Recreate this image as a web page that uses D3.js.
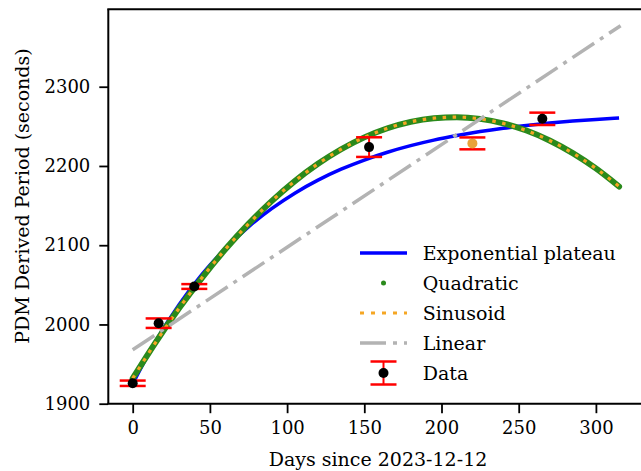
<!DOCTYPE html>
<html>
<head>
<meta charset="utf-8">
<script src="https://cdn.jsdelivr.net/npm/d3@7"></script>
<style>
  html, body { margin: 0; padding: 0; background: #fff; }
  svg { display: block; }
  text { font-family: "DejaVu Serif", serif; fill: #000; }
</style>
</head>
<body>
<svg id="chart" width="641" height="471"></svg>
<script>
// ---- Data ----
const obsDays   = [0, 16.8, 39.9, 153.1, 220.0, 265.3];
const obsPeriod = [1925.8, 2001.6, 2047.9, 2223.8, 2228.5, 2259.5];
const obsErr    = [3.4, 6.0, 3.0, 12.4, 7.5, 7.8];
const obsFlagged = [false, false, false, false, true, false];

const fitDays = [0, 15, 30, 45, 60, 75, 90, 105, 120, 135, 150, 165, 180, 195, 210, 225, 240, 255, 270, 285, 300, 315];
const expPlateau = [1925.0, 1979.2, 2024.9, 2063.4, 2095.8, 2123.2, 2146.2, 2165.7, 2182.1, 2195.9, 2207.5, 2217.3, 2225.6, 2232.6, 2238.4, 2243.4, 2247.6, 2251.1, 2254.1, 2256.6, 2258.7, 2260.5];
const quadratic  = [1932.0, 1977.8, 2020.3, 2059.2, 2094.8, 2126.9, 2155.6, 2180.9, 2202.7, 2221.1, 2236.1, 2247.6, 2255.7, 2260.3, 2261.6, 2259.4, 2253.7, 2244.7, 2232.2, 2216.2, 2196.9, 2174.1];
const sinusoid   = [1932.0, 1977.8, 2020.3, 2059.2, 2094.8, 2126.9, 2155.6, 2180.9, 2202.7, 2221.1, 2236.1, 2247.6, 2255.7, 2260.3, 2261.6, 2259.4, 2253.7, 2244.7, 2232.2, 2216.2, 2196.9, 2174.1];
const linearDays = [0, 316];
const linearFit  = [1968, 2377];

const xTicks = [0, 50, 100, 150, 200, 250, 300];
const yTicks = [1900, 2000, 2100, 2200, 2300];
const legendLabels = ["Exponential plateau", "Quadratic", "Sinusoid", "Linear", "Data"];

// ---- Layout ----
const svg = d3.select("#chart");
svg.append("rect").attr("width", 641).attr("height", 471).attr("fill", "#fff");

const x = d3.scaleLinear().domain([-15.8, 331.8]).range([108.3, 645]);
const y = d3.scaleLinear().domain([1900, 2397.7]).range([403.7, 9.3]);

const line = d3.line().x(d => x(d[0])).y(d => y(d[1])).curve(d3.curveMonotoneX);
const zip = (a, b) => a.map((v, i) => [v, b[i]]);

const g = svg.append("g");

// Exponential plateau
g.append("path").attr("d", line(zip(fitDays, expPlateau)))
  .attr("fill", "none").attr("stroke", "#0000ff").attr("stroke-width", 3.5);
// Quadratic (dense green dots -> thick line)
g.append("path").attr("d", line(zip(fitDays, quadratic)))
  .attr("fill", "none").attr("stroke", "#2a8a1c").attr("stroke-width", 6)
  .attr("stroke-linecap", "round");
// Sinusoid (orange dotted)
g.append("path").attr("d", line(zip(fitDays, sinusoid)))
  .attr("fill", "none").attr("stroke", "#f5a623").attr("stroke-width", 3.2)
  .attr("stroke-dasharray", "3.5,6.5");
// Linear (gray dash-dot)
g.append("path").attr("d", line(zip(linearDays, linearFit)))
  .attr("fill", "none").attr("stroke", "#b3b3b3").attr("stroke-width", 3.5)
  .attr("stroke-dasharray", "26,7,4,7");

// Data with error bars
const obs = obsDays.map((d, i) => ({ d, p: obsPeriod[i], e: obsErr[i], f: obsFlagged[i] }));
const eg = g.append("g");
obs.forEach(o => {
  const cx = x(o.d);
  eg.append("line").attr("x1", cx).attr("x2", cx).attr("y1", y(o.p - o.e)).attr("y2", y(o.p + o.e))
    .attr("stroke", "#ff0000").attr("stroke-width", 2);
  [o.p - o.e, o.p + o.e].forEach(v => {
    eg.append("line").attr("x1", cx - 13).attr("x2", cx + 13).attr("y1", y(v)).attr("y2", y(v))
      .attr("stroke", "#ff0000").attr("stroke-width", 2.5);
  });
  eg.append("circle").attr("cx", cx).attr("cy", y(o.p)).attr("r", 5)
    .attr("fill", o.f ? "#e9a33a" : "#000");
});

// ---- Axes ----
const xAxis = d3.axisBottom(x).tickValues(xTicks).tickSize(9.5).tickPadding(6).tickFormat(d3.format("d"));
const yAxis = d3.axisLeft(y).tickValues(yTicks).tickSize(9).tickPadding(9).tickFormat(d3.format("d"));

const gx = svg.append("g").attr("transform", "translate(0,403.7)").call(xAxis);
const gy = svg.append("g").attr("transform", "translate(108.3,0)").call(yAxis);
[gx, gy].forEach(a => {
  a.select(".domain").remove();
  a.selectAll(".tick line").attr("stroke", "#000").attr("stroke-width", 1.8);
  a.selectAll(".tick text").attr("font-family", "DejaVu Serif").attr("font-size", 18).attr("fill", "#000");
});
gx.selectAll(".tick text").attr("dy", "0.85em");

// spines
svg.append("line").attr("x1", 108.3).attr("x2", 108.3).attr("y1", 9.3).attr("y2", 403.7).attr("stroke", "#000").attr("stroke-width", 2);
svg.append("line").attr("x1", 107.3).attr("x2", 645).attr("y1", 403.7).attr("y2", 403.7).attr("stroke", "#000").attr("stroke-width", 2);
svg.append("line").attr("x1", 107.3).attr("x2", 645).attr("y1", 9.3).attr("y2", 9.3).attr("stroke", "#000").attr("stroke-width", 2);
svg.append("line").attr("x1", 645).attr("x2", 645).attr("y1", 9.3).attr("y2", 403.7).attr("stroke", "#000").attr("stroke-width", 2);

// axis labels
svg.append("text").attr("x", 378).attr("y", 466).attr("text-anchor", "middle")
  .attr("font-size", 19).text("Days since 2023-12-12");
svg.append("text").attr("transform", "translate(29,196) rotate(-90)").attr("text-anchor", "middle")
  .attr("font-size", 19).text("PDM Derived Period (seconds)");

// ---- Legend ----
const lg = svg.append("g");
const rowY = [253, 283, 313, 343, 373];
const hx0 = 360, hx1 = 407, hxc = 383.5;
lg.append("line").attr("x1", hx0).attr("x2", hx1).attr("y1", rowY[0]).attr("y2", rowY[0])
  .attr("stroke", "#0000ff").attr("stroke-width", 3.5);
lg.append("circle").attr("cx", hxc).attr("cy", rowY[1]).attr("r", 2.5).attr("fill", "#2a8a1c");
lg.append("line").attr("x1", hx0).attr("x2", hx1).attr("y1", rowY[2]).attr("y2", rowY[2])
  .attr("stroke", "#f5a623").attr("stroke-width", 3.2).attr("stroke-dasharray", "4,7");
lg.append("line").attr("x1", hx0).attr("x2", hx1).attr("y1", rowY[3]).attr("y2", rowY[3])
  .attr("stroke", "#b3b3b3").attr("stroke-width", 3.5).attr("stroke-dasharray", "26,7,4,7");
lg.append("line").attr("x1", hxc).attr("x2", hxc).attr("y1", rowY[4] - 11.5).attr("y2", rowY[4] + 11.5)
  .attr("stroke", "#ff0000").attr("stroke-width", 2);
[rowY[4] - 11.5, rowY[4] + 11.5].forEach(v => {
  lg.append("line").attr("x1", hxc - 13).attr("x2", hxc + 13).attr("y1", v).attr("y2", v)
    .attr("stroke", "#ff0000").attr("stroke-width", 2.5);
});
lg.append("circle").attr("cx", hxc).attr("cy", rowY[4]).attr("r", 5).attr("fill", "#000");
legendLabels.forEach((t, i) => {
  lg.append("text").attr("x", 422.7).attr("y", rowY[i]).attr("dy", "0.35em")
    .attr("font-size", 19).text(t);
});
</script>
</body>
</html>
